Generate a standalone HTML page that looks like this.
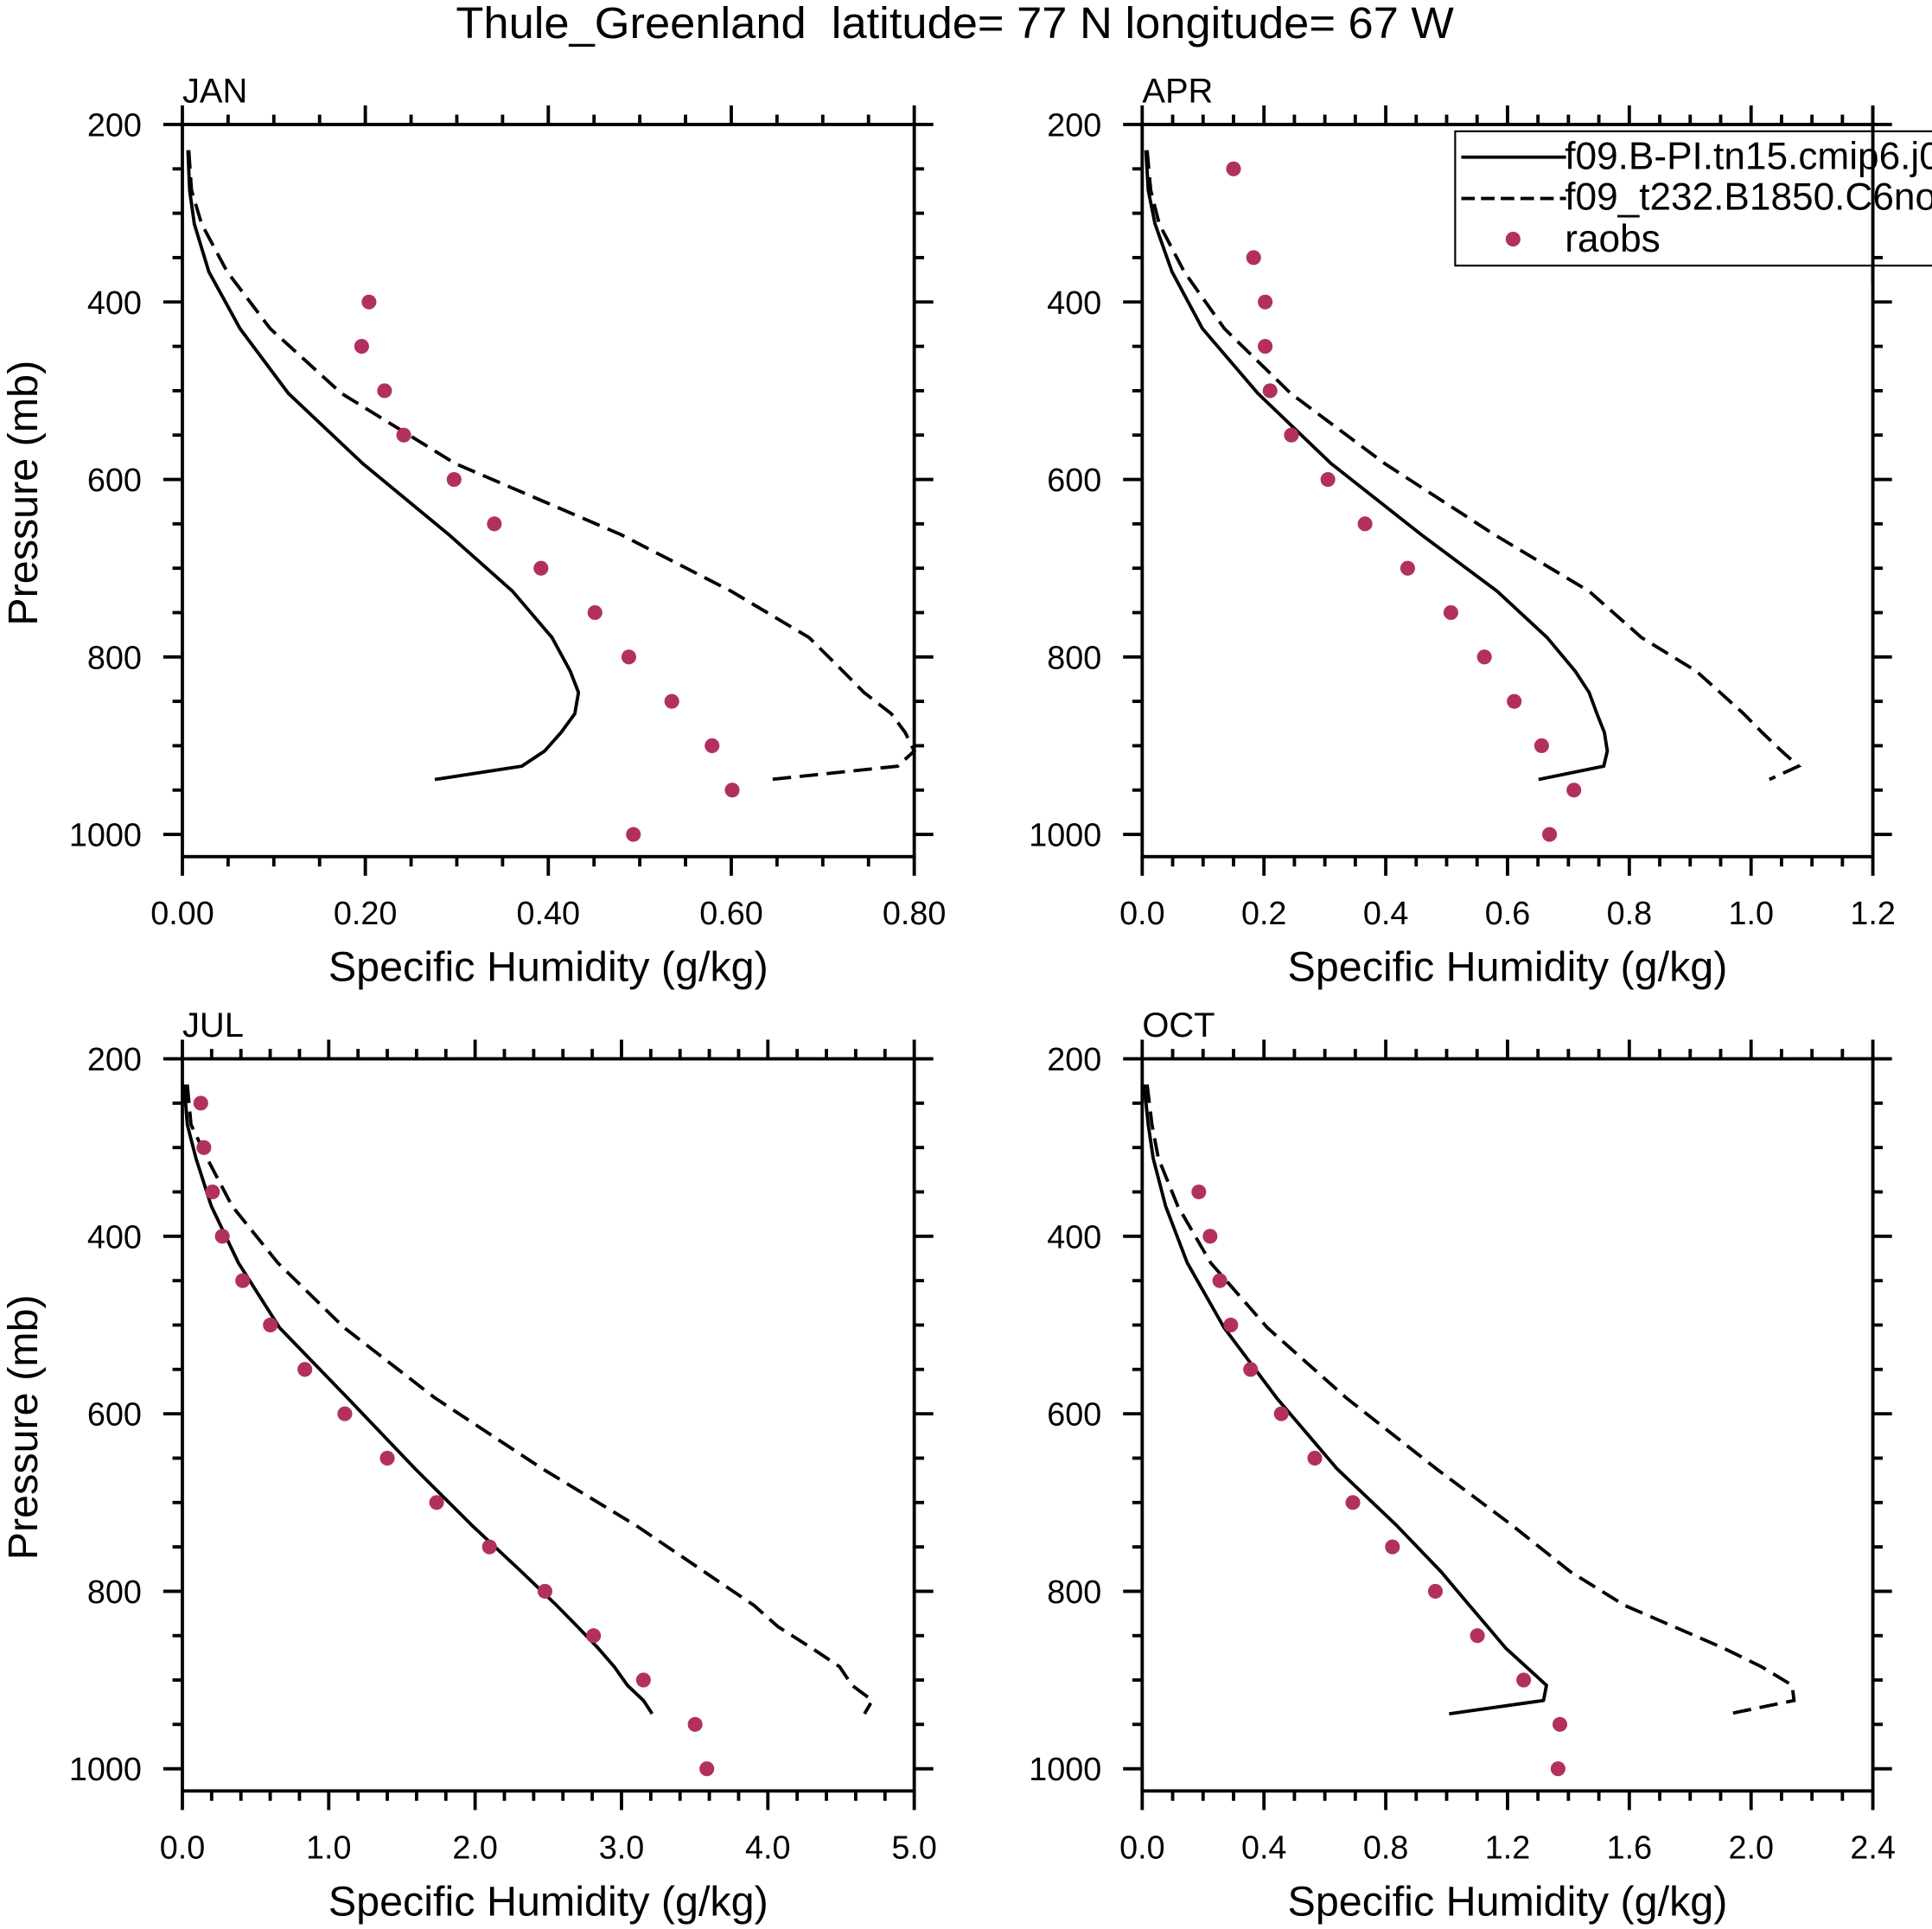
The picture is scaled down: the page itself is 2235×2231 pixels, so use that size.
<!DOCTYPE html>
<html><head><meta charset="utf-8"><style>
html,body{margin:0;padding:0;background:#fff;}
svg{display:block;font-family:"Liberation Sans",Arial,sans-serif;}
</style></head><body>
<svg id="chart" width="2235" height="2231" viewBox="0 0 1568 1565" preserveAspectRatio="none" xmlns="http://www.w3.org/2000/svg">
<rect x="0" y="0" width="1568" height="1565" fill="#fff"/>
<text x="370" y="31" font-size="36" textLength="810" lengthAdjust="spacingAndGlyphs" xml:space="preserve" style="white-space:pre">Thule_Greenland  latitude= 77 N longitude= 67 W</text>
</svg>
<script>
// Shared model levels (mb)
const levels = [229,274,312,366,430,503,582,662,726,778,816,840,864,885,906,923,938];
const obsLevels = [250,300,350,400,450,500,550,600,650,700,750,800,850,900,950,1000];
const yTicks = [200,400,600,800,1000];

const janSolid = [0.006,0.008,0.013,0.029,0.063,0.116,0.197,0.291,0.361,0.404,0.424,0.433,0.429,0.414,0.396,0.371,0.276];
const janDash  = [0.007,0.010,0.021,0.049,0.096,0.174,0.298,0.479,0.600,0.685,0.722,0.745,0.775,0.790,0.800,0.782,0.643];
const janObs   = [null,null,null,0.204,0.196,0.221,0.242,0.297,0.341,0.392,0.451,0.488,0.535,0.579,0.601,0.493];
const janTicks = ["0.00","0.20","0.40","0.60","0.80"];

const aprSolid = [0.006,0.010,0.021,0.049,0.099,0.190,0.310,0.458,0.583,0.665,0.711,0.734,0.747,0.759,0.764,0.758,0.651];
const aprDash  = [0.008,0.014,0.028,0.069,0.135,0.244,0.398,0.578,0.734,0.820,0.910,0.949,0.988,1.018,1.050,1.078,1.030];
const aprObs   = [0.150,null,0.183,0.202,0.202,0.210,0.245,0.305,0.366,0.436,0.507,0.562,0.611,0.656,0.709,0.669];
const aprTicks = ["0.0","0.2","0.4","0.6","0.8","1.0","1.2"];

const julSolid = [0.013,0.034,0.093,0.198,0.383,0.664,1.127,1.590,1.980,2.317,2.557,2.700,2.840,2.950,3.040,3.150,3.210];
const julDash  = [0.034,0.059,0.168,0.340,0.652,1.106,1.724,2.460,3.100,3.566,3.906,4.070,4.300,4.490,4.575,4.714,4.660];
const julObs   = [0.126,0.147,0.206,0.273,0.412,0.601,0.837,1.110,1.400,1.737,2.098,2.477,2.809,3.150,3.503,3.583];
const julTicks = ["0.0","1.0","2.0","3.0","4.0","5.0"];

const octSolid = [0.006,0.020,0.036,0.077,0.148,0.269,0.441,0.640,0.836,0.982,1.075,1.135,1.194,1.261,1.328,1.318,1.008];
const octDash  = [0.016,0.032,0.053,0.117,0.225,0.411,0.670,0.966,1.216,1.407,1.585,1.747,1.909,2.034,2.135,2.141,1.929];
const octObs   = [null,null,0.186,0.223,0.255,0.291,0.356,0.457,0.567,0.692,0.822,0.963,1.101,1.253,1.372,1.366];
const octTicks = ["0.0","0.4","0.8","1.2","1.6","2.0","2.4"];

const NS = "http://www.w3.org/2000/svg";
const svg = document.getElementById('chart');
function mk(tag, attrs, parent){
  const e = document.createElementNS(NS, tag);
  for (const k in attrs) e.setAttribute(k, attrs[k]);
  (parent||svg).appendChild(e);
  return e;
}
const COL = "#b2305f";
const LW = 2.7;

function panel(name, x0, x1, top, xmax, ticks, minorPer, solid, dash, obs){
  const g = mk('g', {});
  
  
  const pTop = 200, pBot = 1025;
  const bot = top + (pBot - pTop) * 0.72;
  const xs = v => x0 + v / xmax * (x1 - x0);
  const ys = p => top + (p - pTop) * 0.72;
  const solidPts = levels.map((p,i)=>xs(solid[i]).toFixed(1)+','+ys(p).toFixed(1)).join(' ');
  const sl = mk('polyline', {points: solidPts, fill:'none', stroke:'#000', 'stroke-width':LW, 'stroke-linejoin':'round'}, g);
  
  
  const dashPts = levels.map((p,i)=>xs(dash[i]).toFixed(1)+','+ys(p).toFixed(1)).join(' ');
  const dl = mk('polyline', {points: dashPts, fill:'none', stroke:'#000', 'stroke-width':LW, 'stroke-dasharray':'15 7'}, g);
  
  
  obsLevels.forEach((p,i)=>{
    if (obs[i] === null) return;
    const c = mk('circle', {cx: xs(obs[i]), cy: ys(p), r: 6, fill: COL}, g);
    
    
  });
  const fr = mk('rect', {x:x0, y:top, width:x1-x0, height:bot-top, fill:'none', stroke:'#000', 'stroke-width':LW}, g);
  
  
  const nMaj = ticks.length - 1;
  const step = xmax / nMaj;
  for (let i = 0; i <= nMaj * minorPer; i++){
    const v = i * step / minorPer;
    const X = xs(v);
    const len = (i % minorPer === 0) ? 15.5 : 8;
    mk('line', {x1:X, y1:bot, x2:X, y2:bot+len, stroke:'#000','stroke-width':LW}, g);
    mk('line', {x1:X, y1:top, x2:X, y2:top-len, stroke:'#000','stroke-width':LW}, g);
  }
  ticks.forEach((t,i)=>{
    const tx = mk('text', {x: xs(i*step), y: bot+55, 'font-size':26.5, 'text-anchor':'middle'}, g);
    tx.textContent = t;
    
    
  });
  for (let p = 200; p <= 1000; p += 50){
    const Y = ys(p);
    const len = (p % 200 === 0) ? 15.5 : 8;
    mk('line', {x1:x0, y1:Y, x2:x0-len, y2:Y, stroke:'#000','stroke-width':LW}, g);
    mk('line', {x1:x1, y1:Y, x2:x1+len, y2:Y, stroke:'#000','stroke-width':LW}, g);
  }
  yTicks.forEach(p=>{
    const tx = mk('text', {x: x0-33, y: ys(p)+9.5, 'font-size':26.5, 'text-anchor':'end'}, g);
    tx.textContent = String(p);
    
    
  });
  const lab = mk('text', {x:x0, y:top-18, 'font-size':28}, g);
  lab.textContent = name.toUpperCase();
  
  
  const xt = mk('text', {x:(x0+x1)/2, y:bot+101, 'font-size':34, 'text-anchor':'middle'}, g);
  xt.textContent = 'Specific Humidity (g/kg)';
  
  
  if (x0 < 500){
    const cy = (top+bot)/2 + 2;
    const yt = mk('text', {x:0, y:0, 'font-size':34, 'text-anchor':'middle', transform:'translate(30,'+cy+') rotate(-90)'}, g);
    yt.textContent = 'Pressure (mb)';
    
    
  }
}

panel('jan', 148, 742, 101, 0.8, janTicks, 4, janSolid, janDash, janObs);
panel('apr', 927, 1520, 101, 1.2, aprTicks, 4, aprSolid, aprDash, aprObs);
panel('jul', 148, 742, 859, 5.0, julTicks, 5, julSolid, julDash, julObs);
panel('oct', 927, 1520, 859, 2.4, octTicks, 4, octSolid, octDash, octObs);

// legend
const lg = mk('g', {});


const lb = mk('rect', {x:1181, y:106.5, width:400, height:109, fill:'#fff', stroke:'#000', 'stroke-width':1.5}, lg);


const l1 = mk('line', {x1:1186, y1:127.5, x2:1271, y2:127.5, stroke:'#000','stroke-width':LW}, lg);


const t1 = mk('text', {x:1270, y:137, 'font-size':31}, lg);
t1.textContent = 'f09.B-PI.tn15.cmip6.j002';


const l2 = mk('line', {x1:1186, y1:161, x2:1271, y2:161, stroke:'#000','stroke-width':LW,'stroke-dasharray':'11 5'}, lg);


const t2 = mk('text', {x:1270, y:170, 'font-size':31}, lg);
t2.textContent = 'f09_t232.B1850.C6notopo';


const d3 = mk('circle', {cx:1228, cy:194, r:6, fill:COL}, lg);


const t3 = mk('text', {x:1270, y:204, 'font-size':31}, lg);
t3.textContent = 'raobs';


const ra = mk('line', {x1:1520, y1:86, x2:1520, y2:230, stroke:'#000','stroke-width':LW});


mk('line', {x1:1520, y1:209, x2:1528, y2:209, stroke:'#000','stroke-width':LW});
</script>
</body></html>
